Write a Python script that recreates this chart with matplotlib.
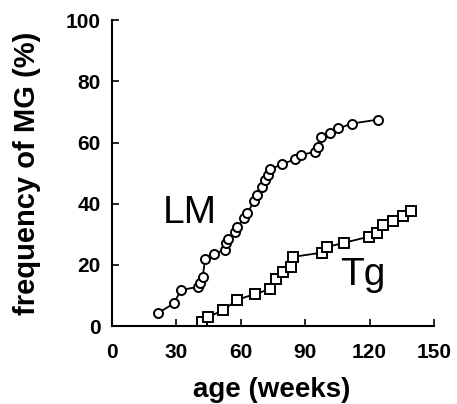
import matplotlib
matplotlib.use("Agg")
import matplotlib.pyplot as plt

plt.rcParams['font.family'] = ['Liberation Sans', 'DejaVu Sans']

lm_age = [21.8, 29.0, 32.3, 40.4, 41.2, 42.4, 43.5, 47.7, 52.8, 53.3, 54.3, 57.4, 58.5,
          61.6, 63.2, 66.3, 67.5, 69.9, 71.4, 72.9, 73.7, 79.2, 85.3, 88.0, 94.7, 96.2,
          97.3, 101.6, 105.5, 111.7, 124.0]
lm_freq = [4.3, 7.4, 11.8, 12.8, 14.0, 16.1, 21.8, 23.5, 25.0, 27.0, 28.3, 30.8, 32.3,
           35.2, 36.8, 41.0, 42.8, 45.5, 47.7, 49.3, 51.2, 52.9, 54.5, 55.9, 57.0, 58.6,
           61.9, 63.2, 64.6, 66.2, 67.5]

tg_age = [42.0, 45.0, 52.0, 58.2, 66.7, 73.5, 76.5, 79.9, 83.3, 84.3, 97.8, 100.4,
          108.1, 119.5, 123.6, 126.4, 130.8, 135.4, 139.1]
tg_freq = [1.4, 3.0, 5.2, 8.5, 10.5, 12.0, 15.5, 17.7, 19.2, 22.6, 24.0, 25.9,
           27.2, 29.2, 30.5, 33.0, 34.4, 35.9, 37.7]

xticks = [0, 30, 60, 90, 120, 150]
yticks = [0, 20, 40, 60, 80, 100]

fig = plt.figure(figsize=(4.57, 4.04), dpi=100)
ax = fig.add_axes([0.244, 0.193, 0.706, 0.757])

ax.plot(lm_age, lm_freq, color='black', lw=1.3, marker='o', ms=6.5,
        mfc='white', mec='black', mew=1.4)
ax.plot(tg_age, tg_freq, color='black', lw=1.3, marker='s', ms=6.5,
        mfc='white', mec='black', mew=1.4)

ax.text(36.4, 33.6, 'LM', fontsize=28, ha='center', va='baseline')
ax.text(117, 13.4, 'Tg', fontsize=28, ha='center', va='baseline')

ax.set_xlim(0, 150)
ax.set_ylim(0, 100)
ax.set_xticks(xticks)
ax.set_yticks(yticks)
ax.tick_params(direction='in', length=5, width=1.2, labelsize=15)
ax.tick_params(axis='x', pad=12.5)
ax.tick_params(axis='y', pad=8)
for lab in ax.get_xticklabels() + ax.get_yticklabels():
    lab.set_fontweight('bold')
ax.spines['top'].set_visible(False)
ax.spines['right'].set_visible(False)
ax.spines['left'].set_linewidth(1.5)
ax.spines['bottom'].set_linewidth(1.5)

ax.set_xlabel('age (weeks)', fontsize=20, fontweight='bold')
ax.set_ylabel('frequency of MG (%)', fontsize=21, fontweight='bold')
ax.xaxis.set_label_coords(0.496, -0.168)
ax.yaxis.set_label_coords(-0.218, 0.5)

fig.savefig('out.png', dpi=100)
